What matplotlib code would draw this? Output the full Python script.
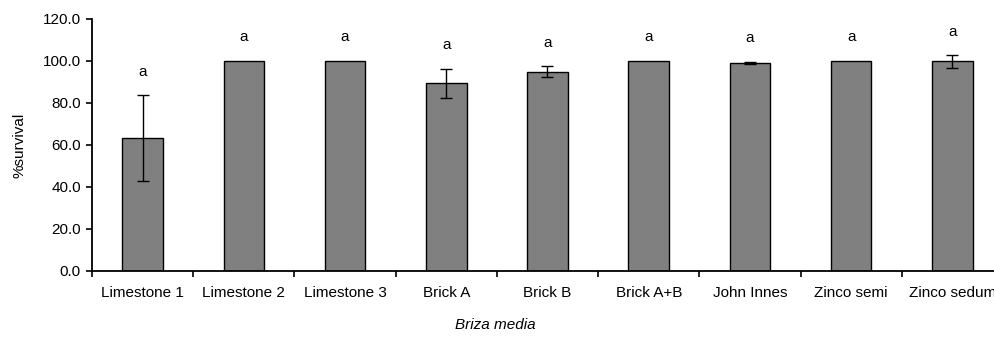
import numpy as np
import matplotlib.pyplot as plt

plt.rcParams['font.family'] = ['Liberation Sans', 'DejaVu Sans']

# Data
categories = ['Limestone 1', 'Limestone 2', 'Limestone 3', 'Brick A', 'Brick B',
              'Brick A+B', 'John Innes', 'Zinco semi', 'Zinco sedum']
survival = [63.3, 100.0, 100.0, 89.4, 94.9, 100.0, 99.0, 100.0, 99.8]
errors = [20.3, 0.0, 0.0, 6.9, 2.5, 0.0, 0.5, 0.0, 3.0]
letters = ['a'] * len(categories)
yticks = [0, 20, 40, 60, 80, 100, 120]

fig = plt.figure(figsize=(9.95, 3.38), dpi=100)
# axes runs past the right edge of the figure, like the clipped original
ax = fig.add_axes([92 / 995, 1 - 271 / 338, 911 / 995, (271 - 19) / 338])

x = np.arange(len(categories))
ax.bar(x, survival, width=0.4, color='#808080', edgecolor='black', linewidth=1.0, zorder=2)
err_mask = [e > 0 for e in errors]
ax.errorbar(x[err_mask], np.array(survival)[err_mask], yerr=np.array(errors)[err_mask],
            fmt='none', ecolor='black', elinewidth=1.0, capsize=4, capthick=1.0, zorder=3)

# significance letters above each bar / error bar
for xi, v, e, lab in zip(x, survival, errors, letters):
    ax.annotate(lab, (xi, v + e), xytext=(0, 17), textcoords='offset points',
                ha='center', va='center', fontsize=11)

ax.set_xlim(-0.5, len(categories) - 0.5)
ax.set_ylim(0, 120)
ax.set_yticks(yticks)
ax.set_yticklabels([f'{t:.1f}' for t in yticks])
ax.set_xticks(x)
ax.set_xticklabels(categories)
ax.set_xticks(np.arange(-0.5, len(categories), 1.0), minor=True)
ax.tick_params(axis='x', which='major', length=0, labelsize=11, pad=11)
ax.tick_params(axis='x', which='minor', length=4, width=1.2, direction='out')
ax.tick_params(axis='y', length=4, width=1.2, labelsize=11, pad=4)

for s in ['top', 'right']:
    ax.spines[s].set_visible(False)
for s in ['left', 'bottom']:
    ax.spines[s].set_linewidth(1.3)
ax.spines['bottom'].set_zorder(4)

ax.set_ylabel('%survival', fontsize=11, labelpad=12)
fig.text(495 / 995, 1 - 325 / 338, 'Briza media', style='italic', fontsize=11,
         ha='center', va='center')

fig.savefig('out.png', dpi=100)
